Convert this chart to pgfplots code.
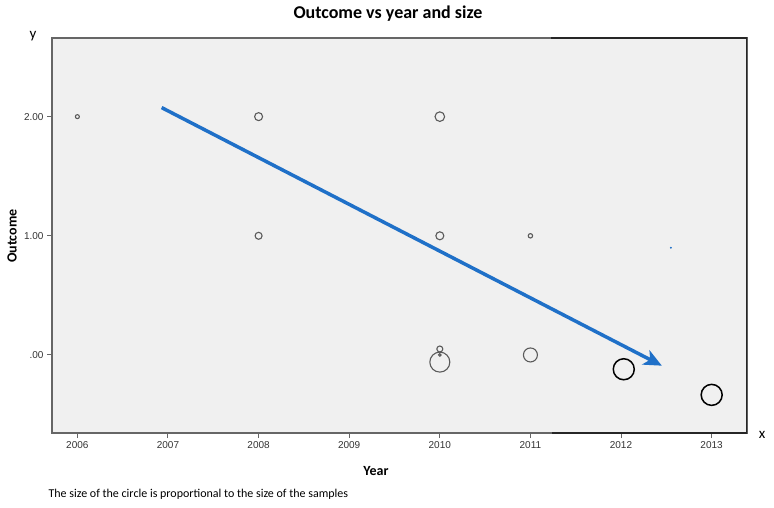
\documentclass[border=0pt]{standalone}
\usepackage{fontspec}
\setmainfont{Carlito}
\newfontfamily\arialf{Liberation Sans}
\usepackage{pgfplots}
\usepackage{pgfplotstable}
\pgfplotsset{compat=1.18}
\usetikzlibrary{arrows.meta}

\definecolor{panel}{HTML}{F0F0F0}
\definecolor{arrowblue}{HTML}{1F70C8}
\definecolor{ring}{HTML}{5A5A5A}
\definecolor{frame}{HTML}{666666}

% year, outcome, circle radius (pt) ~ sample size
\pgfplotstableread{
x y r
2006 2.00 2.0
2008 2.00 4.0
2008 1.00 3.5
2010 2.00 4.8
2010 1.00 4.0
2010 0.05 3.0
2010 0.00 1.3
2010 -0.06 10.0
2011 1.00 2.2
2011 0.00 7.0
}\greyrings
\pgfplotstableread{
x y r
2012.03 -0.12 10.5
2013 -0.335 10.5
}\blackrings

\begin{document}
\begin{tikzpicture}
\useasboundingbox (-52pt,-74pt) rectangle (722pt,433pt);
\begin{axis}[
    scale only axis,
    width=695pt, height=395pt,
    xmin=2005.72, xmax=2013.39,
    ymin=-0.655, ymax=2.66,
    axis background/.style={fill=panel},
    axis line style={frame, line width=1.3pt},
    xtick={2006,2007,...,2013},
    ytick={0,1,2}, yticklabels={.00,1.00,2.00},
    tick align=outside,
    xtick pos=bottom, ytick pos=left,
    major tick length=5pt,
    tick style={frame, line width=1pt},
    tick label style={font=\arialf\fontsize{10}{11}\selectfont, text=black!80},
    /pgf/number format/1000 sep={},
    /pgf/number format/assume math mode=true,
]
\addplot[scatter, only marks, mark=o, point meta=explicit,
    scatter/use mapped color={draw=ring, fill=none},
    line width=1.1pt,
    visualization depends on={\thisrow{r}\as\rad},
    scatter/@pre marker code/.append style={/tikz/mark size=\rad}]
    table[x=x, y=y, meta=r] {\greyrings};
\addplot[scatter, only marks, mark=o, point meta=explicit,
    scatter/use mapped color={draw=black, fill=none},
    line width=1.5pt,
    visualization depends on={\thisrow{r}\as\rad},
    scatter/@pre marker code/.append style={/tikz/mark size=\rad}]
    table[x=x, y=y, meta=r] {\blackrings};
\addplot[only marks, mark=*, mark size=0.7pt, color=arrowblue]
    coordinates {(2012.55,0.90)};
\draw[arrowblue, line width=3.5pt, -{Stealth[length=18pt,width=16pt,inset=5pt]}]
    (axis cs:2006.93,2.076) -- (axis cs:2012.45,-0.09);
% darker patch of the frame on the right
\draw[black!85, line width=1.3pt]
    (rel axis cs:0.718,1) -- (rel axis cs:1,1) -- (rel axis cs:1,0) -- (rel axis cs:0.72,0);
\end{axis}
\node[font=\bfseries\fontsize{18}{20}\selectfont] at (336pt,419pt) {Outcome vs year and size};
\node[rotate=90, font=\bfseries\fontsize{14}{16}\selectfont] at (-40pt,197pt) {Outcome};
\node[font=\fontsize{15}{17}\selectfont] at (-19pt,397pt) {y};
\node[font=\fontsize{15}{17}\selectfont] at (710pt,-2pt) {x};
\node[font=\bfseries\fontsize{14}{16}\selectfont] at (324pt,-38pt) {Year};
\node[anchor=west, font=\fontsize{12}{14}\selectfont] at (-7pt,-61pt)
    {The size of the circle is proportional to the size of the samples};
\end{tikzpicture}
\end{document}
